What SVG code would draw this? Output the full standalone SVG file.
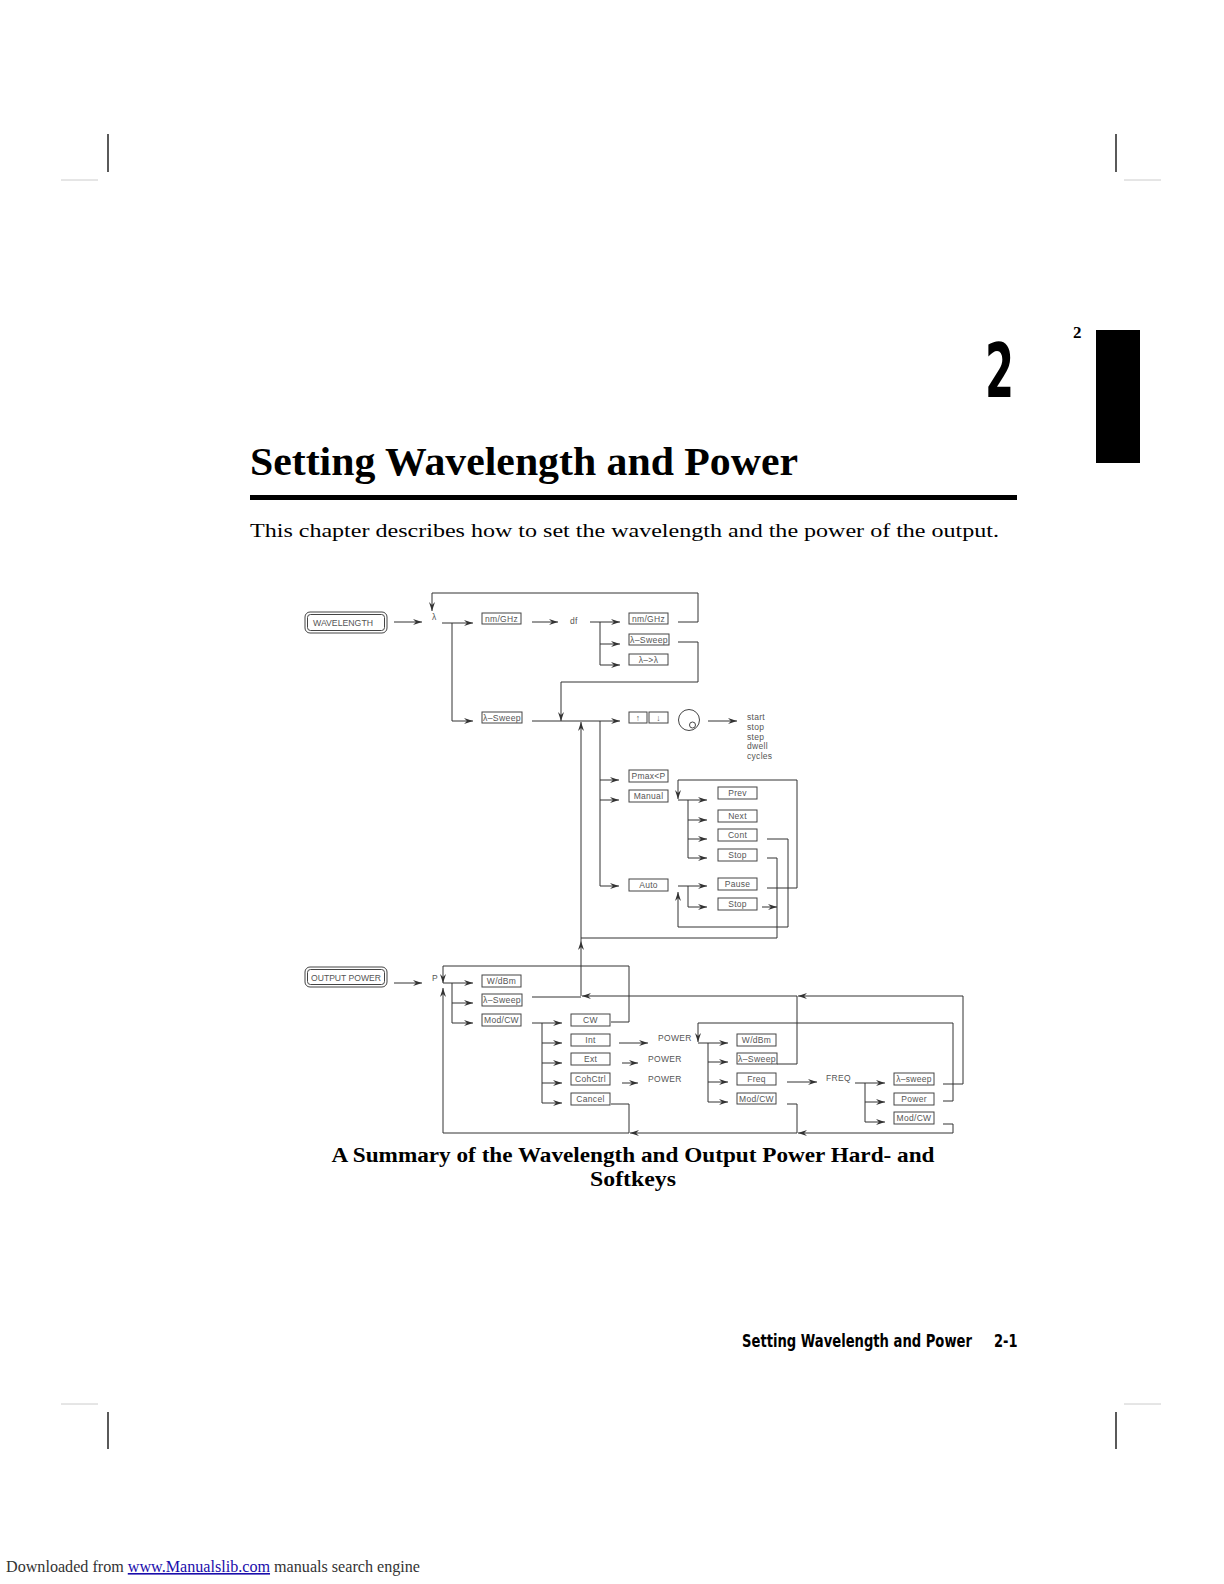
<svg xmlns="http://www.w3.org/2000/svg" width="1224" height="1584" viewBox="0 0 1224 1584">
<style>
.ln{fill:none;stroke:#333;stroke-width:1}
.ar{fill:none;stroke:#333;stroke-width:1;marker-end:url(#ah)}
.bx{fill:#fff;stroke:#444;stroke-width:1}
.bt{font-family:"Liberation Sans",Arial,sans-serif;font-size:8.5px;letter-spacing:0.3px;fill:#555;text-anchor:middle}
.lt{font-family:"Liberation Sans",Arial,sans-serif;font-size:8.5px;letter-spacing:0.3px;fill:#555}
.hk{font-family:"Liberation Sans",Arial,sans-serif;font-size:9px;fill:#555;text-anchor:middle}
.crop{stroke:#000;stroke-width:1.3}
.gcrop{stroke:#ccc;stroke-width:1}
.ft{font-family:"DejaVu Sans Condensed","DejaVu Sans",sans-serif;font-weight:bold;font-size:17px}
</style>
<defs>
<marker id="ah" markerUnits="userSpaceOnUse" markerWidth="10" markerHeight="6" refX="9" refY="3" orient="auto">
<path d="M0,0 L9,3 L0,6 L3,3 Z" fill="#333"/>
</marker>
</defs>
<rect width="1224" height="1584" fill="#fff"/>

<g id="page">
<line class="crop" x1="108" y1="134" x2="108" y2="172"/>
<line class="gcrop" x1="61" y1="180" x2="98" y2="180"/>
<line class="crop" x1="1116" y1="134" x2="1116" y2="172"/>
<line class="gcrop" x1="1124" y1="180" x2="1161" y2="180"/>
<line class="crop" x1="108" y1="1412" x2="108" y2="1449"/>
<line class="gcrop" x1="61" y1="1404" x2="98" y2="1404"/>
<line class="crop" x1="1116" y1="1412" x2="1116" y2="1449"/>
<line class="gcrop" x1="1124" y1="1404" x2="1161" y2="1404"/>
<rect x="1096" y="330" width="44" height="133" fill="#000"/>
<text x="1073" y="338" font-family="Liberation Serif,serif" font-weight="bold" font-size="17">2</text>
<text x="985" y="397" font-family="'DejaVu Sans Condensed','DejaVu Sans',sans-serif" font-weight="bold" font-size="74" textLength="29" lengthAdjust="spacingAndGlyphs">2</text>
<text x="250" y="475" font-family="Liberation Serif,serif" font-weight="bold" font-size="39" textLength="548" lengthAdjust="spacingAndGlyphs">Setting Wavelength and Power</text>
<rect x="250" y="495" width="767" height="5" fill="#000"/>
<text x="250" y="537" font-family="Liberation Serif,serif" font-size="19" textLength="749" lengthAdjust="spacingAndGlyphs">This chapter describes how to set the wavelength and the power of the output.</text>
<text x="633" y="1162" font-family="Liberation Serif,serif" font-weight="bold" font-size="20" text-anchor="middle" textLength="603" lengthAdjust="spacingAndGlyphs">A Summary of the Wavelength and Output Power Hard- and</text>
<text x="633" y="1186" font-family="Liberation Serif,serif" font-weight="bold" font-size="20" text-anchor="middle" textLength="86" lengthAdjust="spacingAndGlyphs">Softkeys</text>
<text class="ft" transform="translate(742,1347) scale(0.86,1)" x="0" y="0">Setting Wavelength and Power</text>
<text class="ft" transform="translate(994,1347) scale(0.85,1)" x="0" y="0">2-1</text>
<text x="6" y="1572" font-family="Liberation Serif,serif" font-size="16" fill="#333" textLength="414" lengthAdjust="spacingAndGlyphs">Downloaded from <tspan fill="#1a0dab" text-decoration="underline">www.Manualslib.com</tspan> manuals search engine</text>
</g>

<g id="connectors">
<path class="ar" d="M394,622 H422"/>
<path class="ln" d="M442,623 H452 V721"/>
<path class="ar" d="M452,623 H473"/>
<path class="ar" d="M452,721 H473"/>
<path class="ar" d="M532,622 H558"/>
<path class="ln" d="M590,622 H600 V665"/>
<path class="ar" d="M600,622 H620"/>
<path class="ar" d="M600,644 H620"/>
<path class="ar" d="M600,665 H620"/>
<path class="ar" d="M678,622 H698 V593 H432 V611"/>
<path class="ar" d="M678,642 H698 V682 H561 V721"/>
<path class="ar" d="M532,721 H620"/>
<path class="ln" d="M600,721 V886"/>
<path class="ar" d="M600,780 H619"/>
<path class="ar" d="M600,800 H619"/>
<path class="ar" d="M600,886 H619"/>
<path class="ar" d="M708,721 H737"/>
<path class="ar" d="M767,888 H797 V780 H678 V799"/>
<path class="ln" d="M678,800 H688 V858"/>
<path class="ar" d="M688,800 H707"/>
<path class="ar" d="M688,820 H707"/>
<path class="ar" d="M688,839 H707"/>
<path class="ar" d="M688,858 H707"/>
<path class="ar" d="M767,839 H788 V927 H678 V892"/>
<path class="ln" d="M678,886 H688 V907"/>
<path class="ar" d="M688,886 H707"/>
<path class="ar" d="M688,907 H707"/>
<path class="ln" d="M767,858 H777 V938 H581"/>
<path class="ar" d="M762,907 H777"/>
<path class="ar" d="M581,996 V941"/>
<path class="ar" d="M581,941 V722"/>

<path class="ar" d="M394,983 H422"/>
<path class="ln" d="M443,983 H452 V1023"/>
<path class="ar" d="M452,983 H473"/>
<path class="ar" d="M452,1003 H473"/>
<path class="ar" d="M452,1023 H473"/>
<path class="ar" d="M611,1022 H629 V966 H443 V983"/>
<path class="ln" d="M611,1104 H629 V1133"/>
<path class="ln" d="M787,1104 H797 V1133"/>
<path class="ln" d="M943,1124 H953 V1133"/>
<path class="ar" d="M953,1133 H798"/>
<path class="ar" d="M797,1133 H630"/>
<path class="ar" d="M629,1133 H443 V988"/>
<path class="ln" d="M532,997 H581"/>
<path class="ar" d="M943,1084 H963 V996 H798"/>
<path class="ar" d="M797,996 H582"/>
<path class="ln" d="M777,1064 H797 V996"/>
<path class="ar" d="M943,1101 H953 V1023 H698 V1042"/>
<path class="ln" d="M698,1043 H708 V1102"/>
<path class="ar" d="M708,1043 H728"/>
<path class="ar" d="M708,1062 H728"/>
<path class="ar" d="M708,1082 H728"/>
<path class="ar" d="M708,1102 H728"/>
<path class="ln" d="M532,1023 H542 V1103"/>
<path class="ar" d="M542,1023 H562"/>
<path class="ar" d="M542,1043 H562"/>
<path class="ar" d="M542,1063 H562"/>
<path class="ar" d="M542,1083 H562"/>
<path class="ar" d="M542,1103 H562"/>
<path class="ar" d="M619,1043 H648"/>
<path class="ar" d="M622,1063 H638"/>
<path class="ar" d="M622,1083 H638"/>
<path class="ar" d="M787,1082 H817"/>
<path class="ln" d="M855,1083 H865 V1122"/>
<path class="ar" d="M865,1083 H885"/>
<path class="ar" d="M865,1102 H885"/>
<path class="ar" d="M865,1122 H885"/>
</g>

<g id="hk-wavelength"><rect x="305" y="612" width="82" height="21" rx="5" fill="#fff" stroke="#444"/><rect x="307.5" y="614.5" width="77" height="16" rx="3" fill="none" stroke="#444"/><text class="hk" x="343" y="626" textLength="60" lengthAdjust="spacingAndGlyphs">WAVELENGTH</text></g>
<g id="lbl-lambda"><text class="lt" x="432" y="620">λ</text></g>
<g id="wl-nmghz"><rect class="bx" x="482" y="613" width="39" height="11"/><text class="bt" x="501.5" y="621.5">nm/GHz</text></g>
<g id="lbl-df"><text class="lt" x="570" y="624">df</text></g>
<g id="df-nmghz"><rect class="bx" x="629" y="613" width="39" height="11"/><text class="bt" x="648.5" y="621.5">nm/GHz</text></g>
<g id="df-sweep"><rect class="bx" x="629" y="634" width="40" height="11"/><text class="bt" x="649" y="642.5" textLength="38" lengthAdjust="spacingAndGlyphs">λ–Sweep</text></g>
<g id="df-lambda"><rect class="bx" x="629" y="654" width="39" height="11"/><text class="bt" x="648.5" y="662.5">λ–&gt;λ</text></g>
<g id="wl-sweep"><rect class="bx" x="482" y="712" width="40" height="11"/><text class="bt" x="502" y="720.5" textLength="38" lengthAdjust="spacingAndGlyphs">λ–Sweep</text></g>
<g id="key-up"><rect class="bx" x="629" y="712" width="18" height="11"/><text class="bt" x="638" y="720.5">↑</text></g>
<g id="key-down"><rect class="bx" x="649" y="712" width="19" height="11"/><text class="bt" x="658.5" y="720.5">↓</text></g>
<g id="knob"><circle cx="689" cy="720" r="10.5" fill="none" stroke="#444"/><circle cx="692.5" cy="725" r="3" fill="none" stroke="#444"/></g>
<g id="sweep-params"><text class="lt" x="747" y="720">start</text><text class="lt" x="747" y="729.5">stop</text><text class="lt" x="747" y="739.5">step</text><text class="lt" x="747" y="749">dwell</text><text class="lt" x="747" y="759">cycles</text></g>
<g id="pmax"><rect class="bx" x="629" y="770" width="39" height="12"/><text class="bt" x="648.5" y="779">Pmax&lt;P</text></g>
<g id="manual"><rect class="bx" x="629" y="790" width="39" height="12"/><text class="bt" x="648.5" y="799">Manual</text></g>
<g id="auto"><rect class="bx" x="629" y="879" width="39" height="12"/><text class="bt" x="648.5" y="888">Auto</text></g>
<g id="prev"><rect class="bx" x="718" y="787" width="39" height="12"/><text class="bt" x="737.5" y="796">Prev</text></g>
<g id="next"><rect class="bx" x="718" y="810" width="39" height="12"/><text class="bt" x="737.5" y="819">Next</text></g>
<g id="cont"><rect class="bx" x="718" y="829" width="39" height="12"/><text class="bt" x="737.5" y="838">Cont</text></g>
<g id="stop1"><rect class="bx" x="718" y="849" width="39" height="12"/><text class="bt" x="737.5" y="858">Stop</text></g>
<g id="pause"><rect class="bx" x="718" y="878" width="39" height="12"/><text class="bt" x="737.5" y="887">Pause</text></g>
<g id="stop2"><rect class="bx" x="718" y="898" width="39" height="12"/><text class="bt" x="737.5" y="907">Stop</text></g>

<g id="hk-output-power"><rect x="305" y="967" width="82" height="20" rx="5" fill="#fff" stroke="#444"/><rect x="307.5" y="969.5" width="77" height="15" rx="3" fill="none" stroke="#444"/><text class="hk" x="346" y="981" textLength="70" lengthAdjust="spacingAndGlyphs">OUTPUT POWER</text></g>
<g id="lbl-p"><text class="lt" x="432" y="981">P</text></g>
<g id="p-wdbm"><rect class="bx" x="482" y="975" width="39" height="12"/><text class="bt" x="501.5" y="984">W/dBm</text></g>
<g id="p-sweep"><rect class="bx" x="482" y="994" width="40" height="12"/><text class="bt" x="502" y="1003" textLength="38" lengthAdjust="spacingAndGlyphs">λ–Sweep</text></g>
<g id="p-modcw"><rect class="bx" x="482" y="1014" width="39" height="12"/><text class="bt" x="501.5" y="1023">Mod/CW</text></g>
<g id="cw"><rect class="bx" x="571" y="1014" width="39" height="12"/><text class="bt" x="590.5" y="1023">CW</text></g>
<g id="int"><rect class="bx" x="571" y="1034" width="39" height="12"/><text class="bt" x="590.5" y="1043">Int</text></g>
<g id="ext"><rect class="bx" x="571" y="1053" width="39" height="12"/><text class="bt" x="590.5" y="1062">Ext</text></g>
<g id="cohctrl"><rect class="bx" x="571" y="1073" width="39" height="12"/><text class="bt" x="590.5" y="1082">CohCtrl</text></g>
<g id="cancel"><rect class="bx" x="571" y="1093" width="39" height="12"/><text class="bt" x="590.5" y="1102">Cancel</text></g>
<g id="lbl-power1"><text class="lt" x="658" y="1041">POWER</text></g>
<g id="lbl-power2"><text class="lt" x="648" y="1062">POWER</text></g>
<g id="lbl-power3"><text class="lt" x="648" y="1082">POWER</text></g>
<g id="pw-wdbm"><rect class="bx" x="737" y="1034" width="39" height="12"/><text class="bt" x="756.5" y="1043">W/dBm</text></g>
<g id="pw-sweep"><rect class="bx" x="737" y="1053" width="40" height="11"/><text class="bt" x="757" y="1061.5" textLength="38" lengthAdjust="spacingAndGlyphs">λ–Sweep</text></g>
<g id="pw-freq"><rect class="bx" x="737" y="1073" width="39" height="12"/><text class="bt" x="756.5" y="1082">Freq</text></g>
<g id="pw-modcw"><rect class="bx" x="737" y="1093" width="39" height="11"/><text class="bt" x="756.5" y="1101.5">Mod/CW</text></g>
<g id="lbl-freq"><text class="lt" x="826" y="1081">FREQ</text></g>
<g id="fq-sweep"><rect class="bx" x="894" y="1073" width="40" height="12"/><text class="bt" x="914" y="1082">λ–sweep</text></g>
<g id="fq-power"><rect class="bx" x="894" y="1093" width="40" height="12"/><text class="bt" x="914" y="1102">Power</text></g>
<g id="fq-modcw"><rect class="bx" x="894" y="1112" width="40" height="12"/><text class="bt" x="914" y="1121">Mod/CW</text></g>
</svg>
